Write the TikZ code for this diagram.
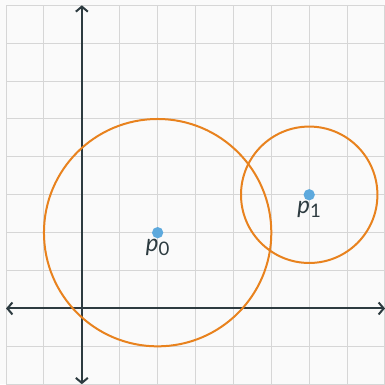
\documentclass[tikz,border=0pt]{standalone}
\usepackage{fontspec}
\setmainfont{Lato}
\usetikzlibrary{arrows.meta}
\definecolor{axisgray}{HTML}{2D3B40}
\definecolor{gridgray}{HTML}{D6D6D6}
\definecolor{circorange}{HTML}{E8821E}
\definecolor{ptblue}{HTML}{5DA9DD}
\definecolor{bggray}{HTML}{FAFAFA}
\definecolor{labelgray}{HTML}{2D3B40}
\newcommand{\ptlabel}[1]{\textit{p}\raisebox{-0.3ex}{\fontsize{14}{16}\selectfont #1}}
\begin{document}
\begin{tikzpicture}[
    axis/.style={line width=1.5pt, axisgray, {Straight Barb[length=3.8pt,width=9pt]}-{Straight Barb[length=3.8pt,width=9pt]}},
    ring/.style={line width=1.5pt, circorange},
    pt/.style={circle, fill=ptblue, inner sep=0pt, minimum size=8.5pt},
    ptname/.style={font=\fontsize{18}{20}\selectfont, labelgray, inner sep=0.5pt}
  ]
    \useasboundingbox (-2.16,-2) rectangle (8,8.14);
    \fill[bggray] (-2.16,-2) rectangle (8,8.14);
    \draw[gridgray, line width=0.75pt] (-2,-2) grid (8,8);

    \draw[axis] (-2,0) -- (8,0);
    \draw[axis] (0,-2) -- (0,8);

    \coordinate (c0) at (2,2);
    \coordinate (c1) at (6,3);
    \draw[ring] (c0) circle (3cm);
    \draw[ring] (c1) circle (1.8cm);

    \node[pt] (p0) at (c0) {};
    \node[pt] (p1) at (c1) {};
    \node[ptname, anchor=north] (l0) at (p0.south) {\ptlabel{0}};
    \node[ptname, anchor=north] (l1) at (p1.south) {\ptlabel{1}};
\end{tikzpicture}
\end{document}
